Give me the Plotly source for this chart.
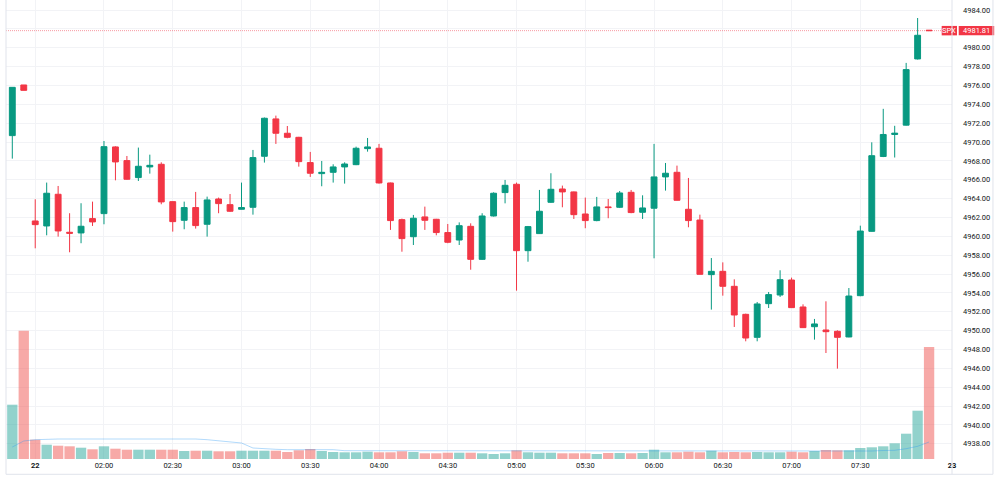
import plotly.graph_objects as go

# ---- data (5-minute bars, SPX) ----
bar_time = (["21 07:55", "21 08:00"] +
            ["22 %02d:%02d" % divmod(t, 60) for t in range(90, 481, 5)])

open_ = [4970.68, 4976.05, 4961.63, 4961.10, 4964.46, 4960.43, 4960.36, 4961.88, 4962.41, 4969.48,
         4968.03, 4966.23, 4967.36, 4967.64, 4963.68, 4961.70, 4963.05, 4961.28, 4963.96, 4963.36,
         4962.87, 4963.08, 4968.49, 4972.45, 4970.93, 4970.50, 4967.82, 4966.65, 4966.79, 4967.36,
         4967.60, 4969.30, 4969.34, 4965.66, 4961.77, 4959.96, 4962.06, 4961.81, 4960.40, 4959.61,
         4961.06, 4957.56, 4962.16, 4964.64, 4965.52, 4958.48, 4960.29, 4963.61, 4965.02, 4964.71,
         4962.37, 4961.67, 4963.12, 4963.08, 4964.67, 4962.55, 4962.98, 4966.30, 4966.79, 4962.87,
         4961.73, 4955.94, 4956.29, 4954.70, 4951.73, 4949.29, 4952.86, 4953.78, 4955.37, 4952.51,
         4950.42, 4950.07, 4949.93, 4949.33, 4953.71, 4960.53, 4968.47, 4970.80, 4971.79, 4978.81,
         4981.86]
high = [4975.80, 4976.05, 4963.93, 4965.70, 4965.34, 4962.45, 4963.51, 4963.68, 4970.11, 4969.55,
        4968.52, 4969.41, 4968.66, 4967.85, 4963.70, 4963.68, 4964.71, 4964.21, 4964.11, 4964.49,
        4965.70, 4969.16, 4972.60, 4972.80, 4971.70, 4970.55, 4968.95, 4967.99, 4967.64, 4967.85,
        4969.51, 4970.43, 4969.80, 4965.70, 4961.88, 4962.27, 4963.15, 4961.85, 4961.31, 4961.48,
        4961.38, 4962.45, 4964.67, 4965.98, 4965.70, 4961.10, 4964.92, 4966.69, 4965.38, 4964.75,
        4964.11, 4964.18, 4963.96, 4964.81, 4964.92, 4964.35, 4969.80, 4967.78, 4967.50, 4966.19,
        4962.30, 4957.70, 4957.24, 4955.44, 4951.80, 4953.04, 4954.10, 4956.40, 4955.62, 4952.79,
        4951.24, 4953.11, 4950.04, 4954.52, 4961.13, 4969.97, 4973.52, 4971.72, 4978.39, 4983.15,
        4981.86]
low = [4968.24, 4975.48, 4958.73, 4960.11, 4959.97, 4958.31, 4959.27, 4961.10, 4961.28, 4965.94,
       4966.00, 4965.87, 4966.65, 4963.40, 4960.50, 4960.75, 4960.82, 4959.97, 4962.45, 4962.59,
       4962.85, 4962.30, 4967.82, 4969.80, 4970.40, 4967.39, 4966.30, 4965.31, 4965.70, 4965.59,
       4967.55, 4968.98, 4965.60, 4960.68, 4958.37, 4959.08, 4960.68, 4960.11, 4959.27, 4959.08,
       4956.46, 4957.50, 4962.10, 4963.50, 4954.24, 4957.31, 4960.25, 4963.55, 4963.08, 4961.84,
       4960.86, 4961.60, 4961.92, 4963.00, 4962.45, 4961.84, 4957.67, 4964.85, 4963.80, 4960.96,
       4955.97, 4952.23, 4953.71, 4950.39, 4948.87, 4948.87, 4952.40, 4953.57, 4952.40, 4950.30,
       4949.05, 4947.63, 4945.97, 4949.30, 4953.65, 4960.50, 4968.40, 4968.36, 4971.75, 4978.75,
       4981.81]
close = [4975.80, 4975.48, 4961.24, 4964.57, 4960.57, 4960.33, 4961.07, 4961.53, 4969.51, 4967.89,
         4966.05, 4967.43, 4967.53, 4963.65, 4961.56, 4963.05, 4961.14, 4963.86, 4963.47, 4962.66,
         4963.05, 4968.35, 4972.52, 4970.93, 4970.50, 4967.92, 4966.69, 4966.79, 4967.36, 4967.67,
         4969.34, 4969.48, 4965.66, 4961.67, 4959.76, 4961.92, 4961.70, 4960.40, 4959.37, 4961.13,
         4957.56, 4962.16, 4964.57, 4965.41, 4958.48, 4961.03, 4962.66, 4964.99, 4964.71, 4962.30,
         4961.67, 4963.12, 4963.05, 4964.60, 4962.52, 4963.01, 4966.30, 4966.69, 4963.82, 4961.67,
         4955.97, 4956.29, 4954.70, 4951.66, 4949.22, 4952.83, 4953.82, 4955.41, 4952.44, 4950.32,
         4950.71, 4949.89, 4949.29, 4953.67, 4960.56, 4968.55, 4970.80, 4970.94, 4977.68, 4981.32,
         4981.81]
volume = [54.3, 128.3, 19.3, 14.3, 13.3, 12.7, 11.3, 9.7, 12.7, 10.3,
          9.3, 9.3, 9.3, 9.3, 9.3, 8.0, 8.3, 8.3, 7.7, 7.7,
          8.3, 8.3, 8.3, 8.3, 7.0, 8.7, 10.0, 8.0, 7.0, 6.7,
          6.7, 7.3, 6.7, 6.7, 7.7, 7.0, 5.7, 5.7, 6.3, 6.3,
          6.3, 5.7, 5.0, 5.7, 8.7, 6.7, 6.3, 6.3, 5.7, 5.7,
          5.7, 5.0, 6.0, 6.0, 5.7, 6.0, 9.3, 6.7, 6.7, 7.3,
          6.7, 8.3, 6.7, 7.0, 6.7, 7.0, 6.7, 6.7, 7.3, 6.7,
          8.0, 9.0, 8.7, 8.7, 11.0, 11.7, 12.7, 15.7, 25.3, 48.3,
          112.0]
volume_ma = [12.0, 18.0, 19.3, 20.0, 20.0, 20.0, 20.0, 20.0, 20.2, 20.3,
             20.3, 20.3, 20.3, 20.3, 20.3, 20.2, 20.0, 19.3, 18.0, 17.3,
             16.0, 11.0, 10.0, 9.7, 9.3, 9.3, 9.3, 9.3, 9.3, 8.3,
             8.3, 8.3, 8.3, 8.3, 8.3, 8.3, 8.3, 8.3, 8.3, 8.3,
             8.3, 8.3, 8.3, 8.3, 8.3, 8.3, 7.7, 7.7, 7.7, 7.7,
             7.7, 7.7, 7.7, 7.7, 7.7, 7.7, 7.7, 7.7, 7.7, 7.7,
             7.7, 7.7, 7.7, 7.7, 7.7, 7.7, 7.7, 7.7, 7.7, 7.7,
             7.7, 7.7, 7.7, 7.7, 7.8, 8.0, 8.5, 8.7, 10.3, 12.7,
             17.0]

tick_bar = [2, 8, 14, 20, 26, 32, 38, 44, 50, 56, 62, 68, 74, 82]
tick_text = ["<b>22</b>", "02:00", "02:30", "03:00", "03:30", "04:00", "04:30",
             "05:00", "05:30", "06:00", "06:30", "07:00", "07:30", "<b>23</b>"]
symbol = "SPX"
last_price = close[-1]

UP, DOWN = "#089981", "#F23645"
VOL_UP, VOL_DOWN = "rgba(38,166,154,0.5)", "rgba(239,83,80,0.5)"
GRID = "#f2f3f6"
FRAME = "#e0e3eb"
TXT = "#131722"
FONT = "Roboto"

x = list(range(len(bar_time)))
vol_colors = [VOL_UP if c >= o else VOL_DOWN for o, c in zip(open_, close)]

fig = go.Figure()
fig.add_trace(go.Candlestick(
    x=x, open=open_, high=high, low=low, close=close,
    increasing=dict(line=dict(color=UP, width=1), fillcolor=UP),
    decreasing=dict(line=dict(color=DOWN, width=1), fillcolor=DOWN),
    whiskerwidth=0, hoverinfo="skip", text=bar_time, name=symbol))
fig.add_trace(go.Bar(x=x, y=volume, marker=dict(color=vol_colors, line=dict(width=0)),
                     yaxis="y2", hoverinfo="skip", name="Volume"))
fig.add_trace(go.Scatter(x=x, y=volume_ma, mode="lines",
                         line=dict(color="rgba(33,150,243,0.35)", width=1),
                         yaxis="y2", hoverinfo="skip", name="Vol MA"))

y_lo, y_hi = 4936.39, 4985.06
shapes = [
    # last price dotted line
    dict(type="line", xref="paper", yref="y", x0=0, x1=0.989, y0=last_price, y1=last_price,
         line=dict(color="rgba(242,54,69,0.5)", width=1, dash="1px,1px"), layer="above"),
    # SPX label boxes
    dict(type="rect", xref="paper", yref="y", x0=0.9891, x1=1.0053,
         y0=last_price - 0.5, y1=last_price + 0.5, fillcolor=DOWN, line=dict(width=0), layer="above"),
    dict(type="rect", xref="paper", yref="y", x0=1.0071, x1=1.0446,
         y0=last_price - 0.5, y1=last_price + 0.5, fillcolor=DOWN, line=dict(width=0), layer="above"),
    # frame
    dict(type="line", xref="paper", yref="paper", x0=0, x1=0, y0=-0.0333, y1=1.01,
         line=dict(color=FRAME, width=1), layer="above"),
    dict(type="line", xref="paper", yref="paper", x0=1, x1=1, y0=-0.0333, y1=1.01,
         line=dict(color=FRAME, width=1), layer="above"),
    dict(type="line", xref="paper", yref="paper", x0=1.0433, x1=1.0433, y0=-0.0333, y1=1.01,
         line=dict(color=FRAME, width=1), layer="above"),
    dict(type="line", xref="paper", yref="paper", x0=0, x1=1.0433, y0=-0.0333, y1=-0.0333,
         line=dict(color=FRAME, width=1), layer="above"),
]
annotations = [
    dict(xref="paper", yref="y", x=0.9972, y=last_price, text=symbol, showarrow=False,
         font=dict(family=FONT, size=7.5, color="white"), xanchor="center", yanchor="middle"),
    dict(xref="paper", yref="y", x=1.0258, y=last_price, text="%.2f" % last_price, showarrow=False,
         font=dict(family=FONT, size=7.5, color="white"), xanchor="center", yanchor="middle"),
]

fig.update_layout(
    width=1000, height=478,
    margin=dict(l=6, r=48, t=0, b=19),
    paper_bgcolor="white", plot_bgcolor="white",
    showlegend=False, boxgap=0.27, bargap=0.1,
    font=dict(family=FONT, size=7.5, color=TXT),
    shapes=shapes, annotations=annotations,
    xaxis=dict(range=[-0.55, 82.0], tickmode="array", tickvals=tick_bar, ticktext=tick_text,
               showgrid=True, gridcolor=GRID, gridwidth=1, zeroline=False, showline=False,
               ticks="", tickfont=dict(family=FONT, size=7.5, color=TXT),
               rangeslider=dict(visible=False), fixedrange=True),
    yaxis=dict(side="right", range=[y_lo, y_hi], tick0=4938, dtick=2, tickformat=".2f",
               showgrid=True, gridcolor=GRID, gridwidth=1, zeroline=False, showline=False,
               ticks="", ticklabelstandoff=10, tickfont=dict(family=FONT, size=7.5, color=TXT),
               fixedrange=True),
    yaxis2=dict(overlaying="y", range=[0, max(volume) / 0.2795], visible=False, fixedrange=True),
)

fig.write_html("out.html", config=dict(displayModeBar=False, staticPlot=True))
